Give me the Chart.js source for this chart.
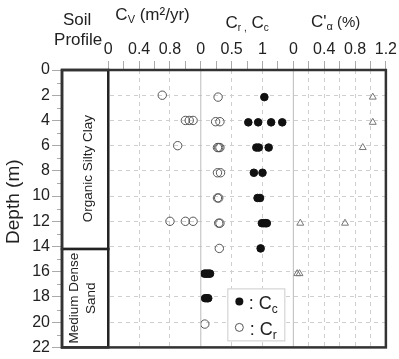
<!DOCTYPE html>
<html>
<head>
<meta charset="utf-8">
<script src="https://cdn.jsdelivr.net/npm/chart.js@4/dist/chart.umd.min.js"></script>
<style>
  html, body { margin: 0; padding: 0; background: #fff; }
</style>
</head>
<body>
<canvas id="chart" width="399" height="359"></canvas>
<script>
// Perfil de suelo
const soilNames  = ["Organic Silty Clay", "Medium Dense\nSand"];
const soilTop    = [0, 14.2];
const soilBottom = [14.2, 22];

// Etiquetas de los ejes
const depthTicks   = [0, 2, 4, 6, 8, 10, 12, 14, 16, 18, 20, 22];
const cvTickLabels = ["0", "0.4", "0.8"];
const crTickLabels = ["0", "0.5", "1"];
const caTickLabels = ["0", "0.4", "0.8", "1.2"];

// Cv (m2/yr)
const cvDepth = [2, 4, 4, 4, 6, 12, 12, 12];
const cvValue = [0.70, 1.00, 1.05, 1.10, 0.90, 0.80, 1.00, 1.10];

// Cr
const crDepth = [2.15, 4.1, 4.1, 6.15, 6.15, 6.15, 8.15, 8.15, 10.15, 10.15, 12.15, 12.15, 14.15, 20.15];
const crValue = [0.28, 0.24, 0.31, 0.27, 0.29, 0.31, 0.27, 0.32, 0.27, 0.29, 0.29, 0.31, 0.30, 0.065];

// Cc
const ccDepth = [2.15, 4.15, 4.15, 4.15, 4.15, 6.15, 6.15, 6.15, 8.15, 8.15, 10.15, 10.15,
                 12.15, 12.15, 12.15, 12.15, 14.15, 16.15, 16.15, 16.15, 16.15, 18.1, 18.1, 18.1];
const ccValue = [1.03, 0.77, 0.93, 1.14, 1.32, 0.90, 0.94, 1.10, 0.86, 1.00, 0.92, 0.96,
                 0.99, 1.02, 1.05, 1.07, 0.97, 0.06, 0.09, 0.12, 0.15, 0.07, 0.10, 0.12];

// C'alpha (%)
const caDepth = [2.15, 4.15, 6.15, 12.15, 12.15, 16.15, 16.15];
const caValue = [1.03, 1.03, 0.90, 0.09, 0.67, 0.05, 0.08];

const FONT = "'Liberation Sans', Arial, sans-serif";
Chart.defaults.font.family = FONT;
Chart.defaults.color = "#222";

const pts = (xs, ys) => xs.map((v, i) => ({ x: v, y: ys[i] }));
const near = (a, b) => Math.abs(a - b) < 1e-6;

// Eje superior de cada panel
function topAxis(min, max, step, labels, gridAt, weight) {
  return {
    type: "linear", axis: "x", position: "top", stack: "top", stackWeight: 1, weight,
    min, max,
    afterFit: (s) => { s.height = 70; },
    ticks: {
      stepSize: step, autoSkip: false, maxRotation: 0, padding: 2, font: { size: 16 },
      callback: (v) => labels.find((l) => near(+l, v)) || "",
    },
    grid: {
      color: (c) => (c.tick && gridAt.some((g) => near(g, c.tick.value)) ? "#cfcfcf" : "rgba(0,0,0,0)"),
      tickColor: "#aaa", tickLength: 9, lineWidth: 1,
    },
    border: { display: false, dash: [4, 4] },
  };
}

// Texto con subíndices: partes [texto, tamaño, desplazamiento]
function rich(ctx, parts, x, y) {
  let w = 0;
  parts.forEach((p) => { ctx.font = p[1] + "px " + FONT; w += ctx.measureText(p[0]).width; });
  let cx = x - w / 2;
  ctx.textAlign = "left";
  parts.forEach((p) => {
    ctx.font = p[1] + "px " + FONT;
    ctx.fillText(p[0], cx, y + (p[2] || 0));
    cx += ctx.measureText(p[0]).width;
  });
}

const overlay = {
  id: "overlay",
  beforeDatasetsDraw(chart) {
    const { ctx, chartArea: a, scales } = chart;
    const y = scales.y, xs = scales.xSoil;
    ctx.save();
    // ticks menores de profundidad
    ctx.strokeStyle = "#aaa"; ctx.lineWidth = 1;
    for (let d = 1; d < 22; d += 2) {
      const py = Math.round(y.getPixelForValue(d)) + 0.5;
      ctx.beginPath(); ctx.moveTo(a.left - 5, py); ctx.lineTo(a.left, py); ctx.stroke();
    }
    // separadores de paneles
    ctx.strokeStyle = "#bbb";
    [scales.xCv.right, scales.xCr.right].forEach((px) => {
      ctx.beginPath(); ctx.moveTo(px, a.top); ctx.lineTo(px, a.bottom); ctx.stroke();
    });
    // cajas del perfil de suelo
    const shiftX = [3, -2.5], shiftY = [9, 0];
    soilTop.forEach((t, i) => {
      const y0 = y.getPixelForValue(t), y1 = y.getPixelForValue(soilBottom[i]);
      ctx.fillStyle = "#fff";
      ctx.fillRect(xs.left, y0, xs.right - xs.left, y1 - y0);
      ctx.strokeStyle = "#222"; ctx.lineWidth = 2.5;
      ctx.strokeRect(xs.left, y0, xs.right - xs.left, y1 - y0);
      const lines = soilNames[i].split("\n");
      ctx.save();
      ctx.translate((xs.left + xs.right) / 2 + shiftX[i], (y0 + y1) / 2 + shiftY[i]);
      ctx.rotate(-Math.PI / 2);
      ctx.fillStyle = "#222"; ctx.font = "13.5px " + FONT;
      ctx.textAlign = "center"; ctx.textBaseline = "middle";
      lines.forEach((l, k) => ctx.fillText(l, 0, (k - (lines.length - 1) / 2) * 17));
      ctx.restore();
    });
    ctx.restore();
  },
  afterDatasetsDraw(chart) {
    const { ctx, chartArea: a, scales } = chart;
    ctx.save();
    // marco
    ctx.strokeStyle = "#333"; ctx.lineWidth = 2.5;
    ctx.strokeRect(a.left, a.top, a.right - a.left, a.bottom - a.top);
    // leyenda
    const bx = scales.xCr.right - 66, by = a.bottom - 59;
    ctx.fillStyle = "#fff"; ctx.fillRect(bx, by, 57, 52);
    ctx.strokeStyle = "#ccc"; ctx.lineWidth = 1; ctx.strokeRect(bx + 0.5, by + 0.5, 57, 52);
    const cc = chart.data.datasets[1], cr = chart.data.datasets[2];
    ctx.beginPath(); ctx.arc(bx + 12, by + 13, 4, 0, Math.PI * 2);
    ctx.fillStyle = cc.backgroundColor; ctx.fill();
    ctx.beginPath(); ctx.arc(bx + 12, by + 39, 4, 0, Math.PI * 2);
    ctx.strokeStyle = cr.borderColor; ctx.stroke();
    ctx.fillStyle = "#222"; ctx.textBaseline = "alphabetic";
    rich(ctx, [[": C", 18], ["c", 12, 4]], bx + 36, by + 21);
    rich(ctx, [[": C", 18], ["r", 12, 4]], bx + 36, by + 47);
    ctx.restore();
  },
  afterDraw(chart) {
    const { ctx, chartArea: a, scales } = chart;
    const mid = (s) => (s.left + s.right) / 2;
    ctx.save();
    ctx.fillStyle = "#222"; ctx.textBaseline = "alphabetic";
    rich(ctx, [["Soil", 17]], mid(scales.xSoil) - 8, 25);
    rich(ctx, [["Profile", 17]], mid(scales.xSoil) - 7, 45);
    rich(ctx, [["C", 17], ["V", 11, 3], [" (m\u00b2/yr)", 17]], mid(scales.xCv) - 2, 20);
    rich(ctx, [["C", 17], ["r ,", 10, 3], [" C", 17], ["c", 10, 3]], mid(scales.xCr), 28);
    rich(ctx, [["C'", 17], ["\u03b1", 11, 3], [" (%)", 15]], mid(scales.xCa) - 4, 27);
    // título del eje de profundidad
    ctx.translate(14, (a.top + a.bottom) / 2 - 7);
    ctx.rotate(-Math.PI / 2);
    ctx.font = "19px " + FONT; ctx.textAlign = "center"; ctx.textBaseline = "middle";
    ctx.fillText("Depth (m)", 0, 0);
    ctx.restore();
  },
};

new Chart(document.getElementById("chart"), {
  type: "scatter",
  data: {
    datasets: [
      { label: "Cv", xAxisID: "xCv", yAxisID: "y", data: pts(cvValue, cvDepth),
        pointStyle: "circle", pointRadius: 4.2, borderWidth: 1, borderColor: "#555", backgroundColor: "rgba(0,0,0,0)" },
      { label: "Cc", xAxisID: "xCr", yAxisID: "y", data: pts(ccValue, ccDepth),
        pointStyle: "circle", pointRadius: 3.8, borderWidth: 1, borderColor: "#111", backgroundColor: "#111" },
      { label: "Cr", xAxisID: "xCr", yAxisID: "y", data: pts(crValue, crDepth),
        pointStyle: "circle", pointRadius: 4.2, borderWidth: 1, borderColor: "#555", backgroundColor: "rgba(0,0,0,0)" },
      { label: "C'a", xAxisID: "xCa", yAxisID: "y", data: pts(caValue, caDepth),
        pointStyle: "triangle", pointRadius: 4, borderWidth: 1, borderColor: "#777", backgroundColor: "rgba(0,0,0,0)" },
    ],
  },
  options: {
    responsive: false,
    animation: false,
    devicePixelRatio: 1,
    layout: { padding: { top: 0, left: 0, right: 12, bottom: 10 } },
    plugins: { legend: { display: false }, tooltip: { enabled: false } },
    scales: {
      xSoil: {
        type: "linear", axis: "x", position: "top", stack: "top", stackWeight: 0.5, weight: 4,
        min: 0, max: 1,
        afterFit: (s) => { s.height = 70; },
        ticks: { display: false },
        grid: { display: false },
        border: { display: false },
      },
      xCv: topAxis(0, 1.2, 0.2, cvTickLabels, [0.4, 0.8], 3),
      xCr: topAxis(0, 1.5, 0.25, crTickLabels, [0.5, 1.0], 2),
      xCa: topAxis(0, 1.2, 0.2, caTickLabels, [0.2, 0.4, 0.6, 0.8, 1.0], 1),
      y: {
        type: "linear", axis: "y", position: "left", reverse: true, min: 0, max: 22,
        afterFit: (s) => { s.width = 62; },
        afterBuildTicks: (s) => { s.ticks = depthTicks.map((v) => ({ value: v })); },
        ticks: { padding: 2, font: { size: 16 }, autoSkip: false },
        grid: { color: "#cfcfcf", tickColor: "#aaa", tickLength: 10, lineWidth: 1 },
        border: { display: false, dash: [4, 4] },
      },
    },
  },
  plugins: [overlay],
});
</script>
</body>
</html>
